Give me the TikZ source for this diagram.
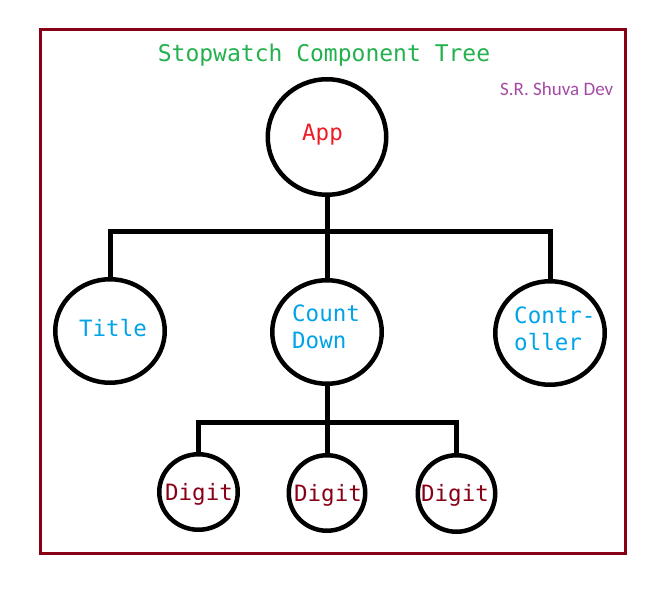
\documentclass[tikz,border=0pt]{standalone}
\usepackage{fontspec}
\setmainfont{DejaVu Sans}
\newfontfamily\monof{DejaVu Sans Mono}
\newfontfamily\authf{Carlito}
\usetikzlibrary{shapes.geometric}
\definecolor{framered}{HTML}{880015}
\definecolor{titlegreen}{HTML}{22B14C}
\definecolor{apred}{HTML}{ED1C24}
\definecolor{midblue}{HTML}{00A2E8}
\definecolor{authpurple}{HTML}{A349A4}
\begin{document}
\begin{tikzpicture}[x=1pt,y=-1pt,
  ell/.style={ellipse, draw=black, line width=4.5pt, inner sep=0pt, fill=none},
  conn/.style={draw=black, line width=5pt},
  lbl/.style={inner sep=0pt, font=\monof\fontsize{22.5}{27.5}\selectfont}
]
\useasboundingbox (0,0) rectangle (664,596);
% frame
\draw[framered, line width=3pt] (40.5,29.5) rectangle (625,553.5);
% title and author
\node[inner sep=0pt, anchor=base, text=titlegreen, font=\monof\fontsize{23}{27}\selectfont] (ttl) at (324,62) {Stopwatch Component Tree};
\node[inner sep=0pt, anchor=base west, text=authpurple, font=\authf\fontsize{19}{22}\selectfont] (auth) at (500,96) {S.R. Shuva Dev};
% nodes
\node[ell, minimum width=118.5pt, minimum height=115.5pt] (app) at (327,137) {};
\node[ell, minimum width=109.5pt, minimum height=103.5pt] (title) at (110,331) {};
\node[ell, minimum width=109.5pt, minimum height=103.5pt] (cd) at (327,332) {};
\node[ell, minimum width=109.5pt, minimum height=103.5pt] (ctrl) at (550,333) {};
\node[ell, minimum width=78.5pt, minimum height=75.5pt] (d1) at (198.5,492) {};
\node[ell, minimum width=76.5pt, minimum height=75.5pt] (d2) at (327,493) {};
\node[ell, minimum width=77.5pt, minimum height=76.5pt] (d3) at (456.5,493.5) {};
% labels
\node[lbl, anchor=base, text=apred] (appT) at (322.5,141) {App};
\node[lbl, anchor=base, text=midblue] (titleT) at (113,336.5) {Title};
\node[lbl, anchor=base west, text=midblue] (cdT) at (292,321) {\begin{tabular}[t]{@{}l@{}}Count\\Down\end{tabular}};
\node[lbl, anchor=base west, text=midblue] (ctrlT) at (514,323) {\begin{tabular}[t]{@{}l@{}}Contr-\\oller\end{tabular}};
\node[lbl, anchor=base, text=framered] (d1T) at (199,500) {Digit};
\node[lbl, anchor=base, text=framered] (d2T) at (328,501) {Digit};
\node[lbl, anchor=base, text=framered] (d3T) at (455,501) {Digit};
% connectors
\coordinate (j1) at (327,232);
\coordinate (j2) at (327,422);
\draw[conn] (app.south) -- (cd.north);
\draw[conn] (title.north) |- (j1) -| (ctrl.north);
\draw[conn] (cd.south) -- (d2.north);
\draw[conn] (d1.north) |- (j2) -| (d3.north);
\end{tikzpicture}
\end{document}
